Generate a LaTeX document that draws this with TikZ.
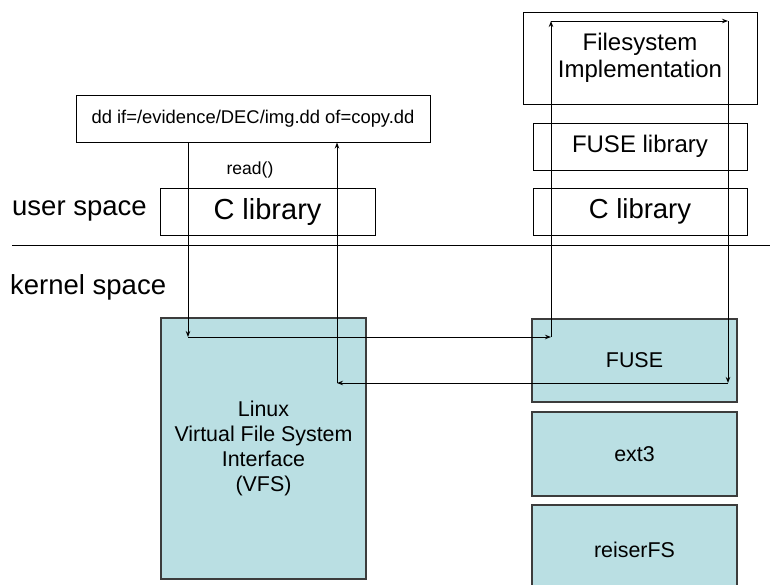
\documentclass[tikz,border=0pt]{standalone}
\usepackage{fontspec}
\setmainfont{Liberation Sans}
\usetikzlibrary{arrows.meta}
\definecolor{boxblue}{RGB}{186,223,227}
\definecolor{boxedge}{RGB}{60,60,60}
\tikzset{
  whitebox/.style={draw=black, line width=1pt, fill=white, inner sep=0pt, align=center},
  bluebox/.style={draw=boxedge, line width=1.4pt, fill=boxblue, inner sep=0pt, align=center},
  arr/.style={draw=black, line width=1pt, -{Stealth[length=6pt,width=4.5pt]}},
  sep/.style={draw=black, line width=1pt},
  fs/.style 2 args={font=\fontsize{#1}{#2}\selectfont}
}
\begin{document}
\begin{tikzpicture}[x=1pt,y=-1pt]
\useasboundingbox (0,0) rectangle (770,584);
\begin{scope}
\clip (0,0) rectangle (770,584);
% boxes
\node[whitebox, minimum width=354pt, minimum height=47pt, fs={18.4}{22}] (cmd) at (253,118.5) {dd if=/evidence/DEC/img.dd of=copy.dd};
\node[whitebox, minimum width=215pt, minimum height=47pt, fs={29}{34}] (clibL) at (267.5,211.5) {C library};
\node[whitebox, minimum width=234pt, minimum height=92pt, fs={24}{27}] (fsimpl) at (640,58) {Filesystem\\Implementation};
\node[whitebox, minimum width=214pt, minimum height=47pt, fs={24}{28}] (fuselib) at (640,146.5) {FUSE library};
\node[whitebox, minimum width=214pt, minimum height=47pt, fs={27.5}{32}] (clibR) at (640,211.5) {C library};
\node[bluebox, minimum width=205pt, minimum height=261pt, fs={21.4}{25}] (vfs) at (263.5,448.5) {Linux\\Virtual File System\\Interface\\(VFS)};
\node[bluebox, minimum width=205pt, minimum height=83pt, fs={21.4}{25}] (fuse) at (634.5,360.5) {FUSE};
\node[bluebox, minimum width=205pt, minimum height=84pt, fs={21.4}{25}] (ext3) at (634.5,454) {ext3};
\node[bluebox, minimum width=205pt, minimum height=90pt, fs={21.4}{25}] (reiser) at (634.5,550) {reiserFS};
% labels
\node[anchor=west, inner sep=0pt, fs={27.5}{32}] (us) at (12,211) {user space};
\node[anchor=west, inner sep=0pt, fs={27.5}{32}] (ks) at (10,287) {kernel space};
\node[inner sep=0pt, fs={17.5}{21}] (rd) at (250,170) {read()};
% separator
\coordinate (sl) at (12,245);
\coordinate (sr) at (770,245);
\draw[sep] (sl) -- (sr);
% arrow path
\coordinate (p1) at (188,337);
\coordinate (p2) at (551,337);
\coordinate (p3) at (551,21);
\coordinate (p4) at (728,21);
\coordinate (p5) at (728,383);
\coordinate (p6) at (337,383);
\draw[arr] (cmd.south -| p1) -- (p1);
\draw[arr] (p1) -- (p2);
\draw[arr] (p2) -- (p3);
\draw[arr] (p3) -- (p4);
\draw[arr] (p4) -- (p5);
\draw[arr] (p5) -- (p6);
\draw[arr] (p6) -- (cmd.south -| p6);
\end{scope}
\end{tikzpicture}
\end{document}
